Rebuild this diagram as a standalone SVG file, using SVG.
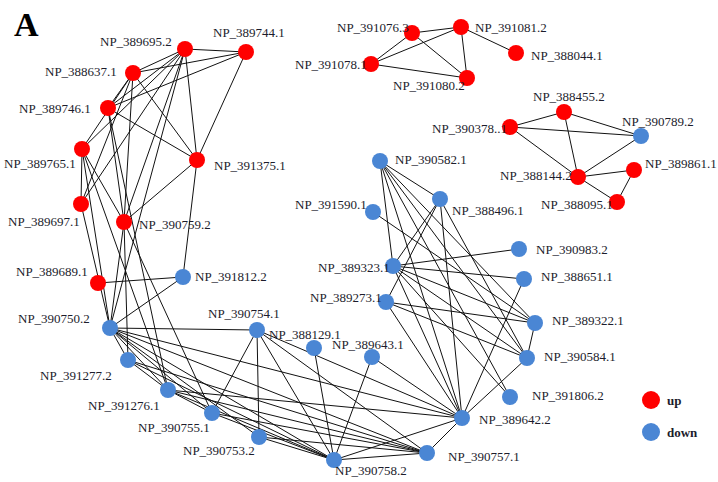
<svg xmlns="http://www.w3.org/2000/svg" width="718" height="482" viewBox="0 0 718 482">
<style>
.u{fill:#ff0000}.d{fill:#4a86d4}
text{font-family:"Liberation Serif",serif;font-size:13px;fill:#1c1c2c}
#edges line{stroke:#111;stroke-width:1}
</style>
<rect width="718" height="482" fill="#fff"/>
<text x="14" y="36" style="font-size:34px;font-weight:bold;fill:#000">A</text>
<g id="edges">
<line x1="185" y1="49" x2="246" y2="52"/><line x1="185" y1="49" x2="133" y2="73"/><line x1="185" y1="49" x2="108" y2="108"/><line x1="185" y1="49" x2="82" y2="149"/><line x1="185" y1="49" x2="81" y2="204"/><line x1="185" y1="49" x2="124" y2="222"/><line x1="185" y1="49" x2="197" y2="160"/><line x1="185" y1="49" x2="110" y2="328"/>
<line x1="246" y1="52" x2="108" y2="108"/><line x1="246" y1="52" x2="197" y2="160"/><line x1="246" y1="52" x2="133" y2="73"/>
<line x1="133" y1="73" x2="82" y2="149"/><line x1="133" y1="73" x2="81" y2="204"/><line x1="133" y1="73" x2="197" y2="160"/><line x1="133" y1="73" x2="124" y2="222"/><line x1="133" y1="73" x2="108" y2="108"/>
<line x1="108" y1="108" x2="197" y2="160"/><line x1="108" y1="108" x2="124" y2="222"/><line x1="108" y1="108" x2="168" y2="390"/>
<line x1="82" y1="149" x2="81" y2="204"/><line x1="82" y1="149" x2="124" y2="222"/><line x1="82" y1="149" x2="110" y2="328"/><line x1="82" y1="149" x2="168" y2="390"/>
<line x1="197" y1="160" x2="124" y2="222"/><line x1="197" y1="160" x2="183" y2="277"/>
<line x1="81" y1="204" x2="110" y2="328"/>
<line x1="124" y1="222" x2="110" y2="328"/><line x1="124" y1="222" x2="128" y2="360"/><line x1="124" y1="222" x2="212" y2="413"/>
<line x1="98" y1="283" x2="183" y2="277"/><line x1="183" y1="277" x2="110" y2="328"/>
<line x1="110" y1="328" x2="257" y2="330"/><line x1="110" y1="328" x2="128" y2="360"/><line x1="110" y1="328" x2="168" y2="390"/><line x1="110" y1="328" x2="212" y2="413"/><line x1="110" y1="328" x2="259" y2="437"/><line x1="110" y1="328" x2="334" y2="460"/><line x1="110" y1="328" x2="427" y2="453"/><line x1="110" y1="328" x2="462" y2="418"/>
<line x1="128" y1="360" x2="168" y2="390"/><line x1="128" y1="360" x2="334" y2="460"/><line x1="128" y1="360" x2="427" y2="453"/>
<line x1="168" y1="390" x2="334" y2="460"/><line x1="168" y1="390" x2="427" y2="453"/><line x1="168" y1="390" x2="462" y2="418"/><line x1="168" y1="390" x2="212" y2="413"/>
<line x1="212" y1="413" x2="257" y2="330"/><line x1="212" y1="413" x2="334" y2="460"/><line x1="212" y1="413" x2="427" y2="453"/>
<line x1="259" y1="437" x2="257" y2="330"/><line x1="259" y1="437" x2="334" y2="460"/><line x1="259" y1="437" x2="427" y2="453"/>
<line x1="257" y1="330" x2="334" y2="460"/><line x1="257" y1="330" x2="462" y2="418"/><line x1="257" y1="330" x2="427" y2="453"/>
<line x1="314" y1="348" x2="334" y2="460"/><line x1="372" y1="357" x2="334" y2="460"/><line x1="372" y1="357" x2="462" y2="418"/>
<line x1="334" y1="460" x2="427" y2="453"/><line x1="334" y1="460" x2="462" y2="418"/><line x1="427" y1="453" x2="462" y2="418"/>
<line x1="380" y1="161" x2="440" y2="199"/><line x1="380" y1="161" x2="393" y2="266"/><line x1="380" y1="161" x2="535" y2="323"/><line x1="380" y1="161" x2="527" y2="358"/><line x1="380" y1="161" x2="462" y2="418"/><line x1="380" y1="161" x2="510" y2="397"/>
<line x1="440" y1="199" x2="393" y2="266"/><line x1="440" y1="199" x2="386" y2="302"/><line x1="440" y1="199" x2="462" y2="418"/><line x1="440" y1="199" x2="527" y2="358"/>
<line x1="373" y1="212" x2="535" y2="323"/>
<line x1="393" y1="266" x2="519" y2="249"/><line x1="393" y1="266" x2="524" y2="279"/><line x1="393" y1="266" x2="535" y2="323"/><line x1="393" y1="266" x2="527" y2="358"/><line x1="393" y1="266" x2="462" y2="418"/><line x1="393" y1="266" x2="510" y2="397"/>
<line x1="386" y1="302" x2="535" y2="323"/><line x1="386" y1="302" x2="527" y2="358"/><line x1="386" y1="302" x2="462" y2="418"/>
<line x1="524" y1="279" x2="462" y2="418"/><line x1="535" y1="323" x2="527" y2="358"/><line x1="527" y1="358" x2="462" y2="418"/>
<line x1="412" y1="33" x2="461" y2="27"/><line x1="412" y1="33" x2="371" y2="64"/><line x1="412" y1="33" x2="467" y2="78"/><line x1="461" y1="27" x2="371" y2="64"/><line x1="461" y1="27" x2="467" y2="78"/><line x1="461" y1="27" x2="516" y2="53"/><line x1="371" y1="64" x2="467" y2="78"/>
<line x1="510" y1="127" x2="564" y2="112"/><line x1="510" y1="127" x2="641" y2="136"/><line x1="510" y1="127" x2="578" y2="177"/><line x1="564" y1="112" x2="578" y2="177"/><line x1="564" y1="112" x2="641" y2="136"/><line x1="641" y1="136" x2="578" y2="177"/><line x1="578" y1="177" x2="634" y2="170"/><line x1="578" y1="177" x2="617" y2="202"/><line x1="634" y1="170" x2="617" y2="202"/>
</g>
<g id="n389695"><circle class="u" cx="185" cy="49" r="8"/><text x="100" y="46">NP_389695.2</text></g>
<g id="n389744"><circle class="u" cx="246" cy="52" r="8"/><text x="213" y="37">NP_389744.1</text></g>
<g id="n388637"><circle class="u" cx="133" cy="73" r="8"/><text x="45" y="76">NP_388637.1</text></g>
<g id="n389746"><circle class="u" cx="108" cy="108" r="8"/><text x="19" y="113">NP_389746.1</text></g>
<g id="n389765"><circle class="u" cx="82" cy="149" r="8"/><text x="4" y="168">NP_389765.1</text></g>
<g id="n391375"><circle class="u" cx="197" cy="160" r="8"/><text x="214" y="170">NP_391375.1</text></g>
<g id="n389697"><circle class="u" cx="81" cy="204" r="8"/><text x="8" y="226">NP_389697.1</text></g>
<g id="n390759"><circle class="u" cx="124" cy="222" r="8"/><text x="139" y="229">NP_390759.2</text></g>
<g id="n389689"><circle class="u" cx="98" cy="283" r="8"/><text x="16" y="276">NP_389689.1</text></g>
<g id="n391812"><circle class="d" cx="183" cy="277" r="8"/><text x="195" y="281">NP_391812.2</text></g>
<g id="n390750"><circle class="d" cx="110" cy="328" r="8"/><text x="18" y="323">NP_390750.2</text></g>
<g id="n391277"><circle class="d" cx="128" cy="360" r="8"/><text x="40" y="380">NP_391277.2</text></g>
<g id="n391276"><circle class="d" cx="168" cy="390" r="8"/><text x="88" y="410">NP_391276.1</text></g>
<g id="n390755"><circle class="d" cx="212" cy="413" r="8"/><text x="138" y="432">NP_390755.1</text></g>
<g id="n390753"><circle class="d" cx="259" cy="437" r="8"/><text x="183" y="455">NP_390753.2</text></g>
<g id="n390758"><circle class="d" cx="334" cy="460" r="8"/><text x="335" y="475">NP_390758.2</text></g>
<g id="n390757"><circle class="d" cx="427" cy="453" r="8"/><text x="448" y="461">NP_390757.1</text></g>
<g id="n389642"><circle class="d" cx="462" cy="418" r="8"/><text x="479" y="424">NP_389642.2</text></g>
<g id="n391806"><circle class="d" cx="510" cy="397" r="8"/><text x="532" y="400">NP_391806.2</text></g>
<g id="n390584"><circle class="d" cx="527" cy="358" r="8"/><text x="544" y="361">NP_390584.1</text></g>
<g id="n389322"><circle class="d" cx="535" cy="323" r="8"/><text x="552" y="325">NP_389322.1</text></g>
<g id="n388651"><circle class="d" cx="524" cy="279" r="8"/><text x="541" y="281">NP_388651.1</text></g>
<g id="n390983"><circle class="d" cx="519" cy="249" r="8"/><text x="536" y="254">NP_390983.2</text></g>
<g id="n388496"><circle class="d" cx="440" cy="199" r="8"/><text x="452" y="215">NP_388496.1</text></g>
<g id="n390582"><circle class="d" cx="380" cy="161" r="8"/><text x="395" y="164">NP_390582.1</text></g>
<g id="n391590"><circle class="d" cx="373" cy="212" r="8"/><text x="295" y="209">NP_391590.1</text></g>
<g id="n389323"><circle class="d" cx="393" cy="266" r="8"/><text x="318" y="272">NP_389323.1</text></g>
<g id="n389273"><circle class="d" cx="386" cy="302" r="8"/><text x="310" y="302">NP_389273.1</text></g>
<g id="n390754"><circle class="d" cx="257" cy="330" r="8"/><text x="208" y="318">NP_390754.1</text></g>
<g id="n388129"><circle class="d" cx="314" cy="348" r="8"/><text x="269" y="339">NP_388129.1</text></g>
<g id="n389643"><circle class="d" cx="372" cy="357" r="8"/><text x="332" y="349">NP_389643.1</text></g>
<g id="n391076"><circle class="u" cx="412" cy="33" r="8"/><text x="337" y="32">NP_391076.3</text></g>
<g id="n391081"><circle class="u" cx="461" cy="27" r="8"/><text x="475" y="32">NP_391081.2</text></g>
<g id="n388044"><circle class="u" cx="516" cy="53" r="8"/><text x="531" y="60">NP_388044.1</text></g>
<g id="n391078"><circle class="u" cx="371" cy="64" r="8"/><text x="295" y="69">NP_391078.1</text></g>
<g id="n391080"><circle class="u" cx="467" cy="78" r="8"/><text x="393" y="90">NP_391080.2</text></g>
<g id="n388455"><circle class="u" cx="564" cy="112" r="8"/><text x="533" y="101">NP_388455.2</text></g>
<g id="n390378"><circle class="u" cx="510" cy="127" r="8"/><text x="432" y="133">NP_390378..1</text></g>
<g id="n390789"><circle class="d" cx="641" cy="136" r="8"/><text x="622" y="126">NP_390789.2</text></g>
<g id="n388144"><circle class="u" cx="578" cy="177" r="8"/><text x="500" y="180">NP_388144.2</text></g>
<g id="n389861"><circle class="u" cx="634" cy="170" r="8"/><text x="645" y="168">NP_389861.1</text></g>
<g id="n388095"><circle class="u" cx="617" cy="202" r="8"/><text x="541" y="209">NP_388095.1</text></g>
<g id="legend"><circle class="u" cx="651" cy="400" r="9"/><text x="667" y="405" style="font-weight:bold">up</text><circle class="d" cx="651" cy="432" r="9"/><text x="667" y="437" style="font-weight:bold">down</text></g>
</svg>
